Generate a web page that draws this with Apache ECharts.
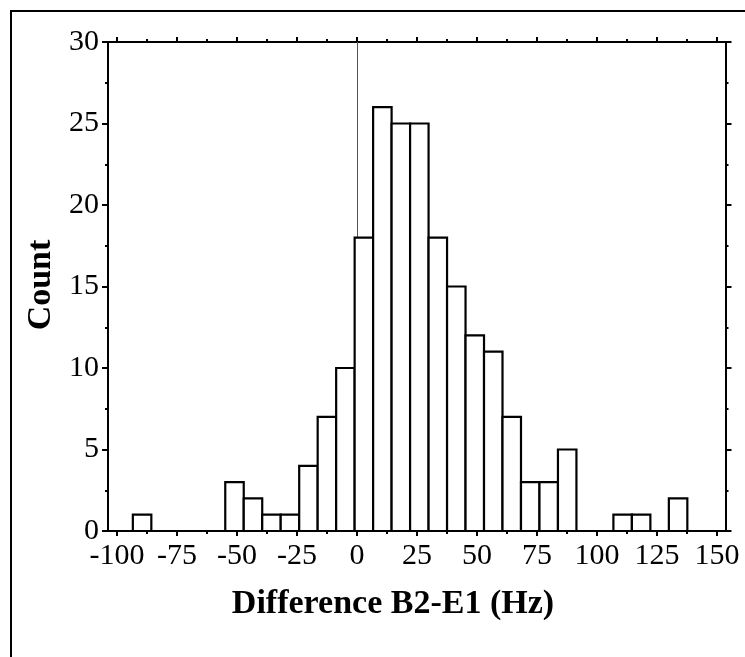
<!DOCTYPE html>
<html>
<head>
<meta charset="utf-8">
<script src="https://cdn.jsdelivr.net/npm/echarts@6/dist/echarts.min.js"></script>
<style>
html,body{margin:0;padding:0;background:#fff;}
#main{width:745px;height:657px;}
</style>
</head>
<body>
<div id="main"></div>
<script>
// Histogram data (bin width and first bin edge)
var binStart = -93.4;
var binWidth = 7.7;
var counts = [1,0,0,0,0,3,2,1,1,4,7,10,18,26,25,25,18,15,12,11,7,3,3,5,0,0,1,1,0,2,0];
var xMajorTicks = [-100,-75,-50,-25,0,25,50,75,100,125,150];
var xMinorTicks = [-87.5,-62.5,-37.5,-12.5,12.5,37.5,62.5,87.5,112.5,137.5];
var xTitle = 'Difference B2-E1 (Hz)';
var yTitle = 'Count';

var bins = counts.map(function(c, i){
  return [binStart + i*binWidth, binStart + (i+1)*binWidth, c];
});

var FONT = 'Liberation Serif';
var chart = echarts.init(document.getElementById('main'), null, {renderer:'canvas'});

function xAx(pos, ticks, len, labels){
  return {
    type:'value', position:pos, min:-103.75, max:153.5,
    axisLine:{show:true, onZero:false, lineStyle:{color:'#000', width:2}},
    axisTick:{show:true, inside:false, length:len, customValues:ticks, lineStyle:{color:'#000', width:2}},
    axisLabel:labels ? {show:true, customValues:ticks, fontFamily:FONT, fontSize:30, color:'#000', margin:10} : {show:false},
    splitLine:{show:false}
  };
}
function yAx(pos, labels){
  return {
    type:'value', position:pos, min:0, max:30, interval:5,
    axisLine:{show:true, onZero:false, lineStyle:{color:'#000', width:2}},
    axisTick:{show:true, inside:false, length:6, lineStyle:{color:'#000', width:2}},
    minorTick:{show:true, splitNumber:2, length:3, lineStyle:{color:'#000', width:2}},
    axisLabel:labels ? {show:true, fontFamily:FONT, fontSize:30, color:'#000', margin:9} : {show:false},
    splitLine:{show:false}, minorSplitLine:{show:false}
  };
}

chart.setOption({
  animation:false,
  backgroundColor:'#fff',
  grid:{left:108, right:19.5, top:42, bottom:126},
  xAxis:[
    xAx('bottom', xMajorTicks, 5, true),
    xAx('bottom', xMinorTicks, 3, false),
    xAx('top', xMajorTicks, 5, false),
    xAx('top', xMinorTicks, 3, false)
  ],
  yAxis:[ yAx('left', true), yAx('right', false) ],
  graphic:[
    {type:'rect', shape:{x:11, y:11, width:800, height:700}, style:{fill:'none', stroke:'#000', lineWidth:2}, z:100},
    {type:'text', x:393, y:604, style:{text:xTitle, font:'bold 34px "Liberation Serif"', fill:'#000', textAlign:'center', textVerticalAlign:'middle'}},
    {type:'text', x:41, y:285, rotation:Math.PI/2, style:{text:yTitle, font:'bold 34px "Liberation Serif"', fill:'#000', textAlign:'center', textVerticalAlign:'middle'}}
  ],
  series:[
    {
      type:'line', data:[], xAxisIndex:0, yAxisIndex:0, z:1,
      markLine:{symbol:'none', silent:true, label:{show:false},
        lineStyle:{color:'#555', width:1, type:'solid'},
        data:[{xAxis:0}]}
    },
    {
      type:'custom', xAxisIndex:0, yAxisIndex:0, z:5,
      data:bins,
      renderItem:function(params, api){
        var c = api.value(2);
        if (!c) return null;
        var p0 = api.coord([api.value(0), c]);
        var p1 = api.coord([api.value(1), 0]);
        return {type:'rect', shape:{x:p0[0], y:p0[1], width:p1[0]-p0[0], height:p1[1]-p0[1]},
          style:{fill:'#fff', stroke:'#000', lineWidth:2.2}};
      }
    }
  ]
});
</script>
</body>
</html>
